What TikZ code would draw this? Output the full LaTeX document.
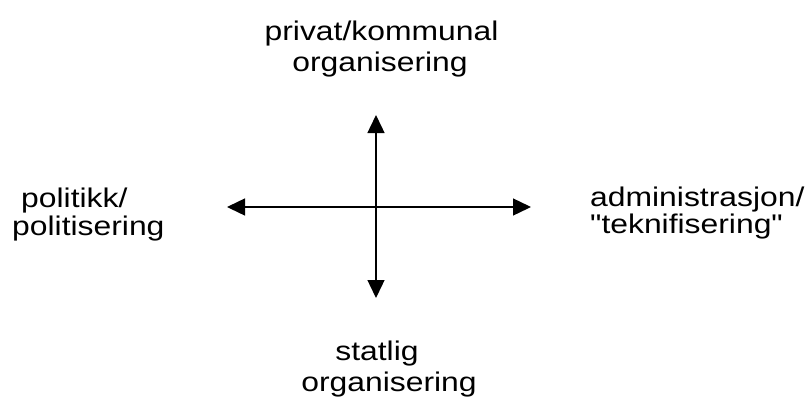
\documentclass[tikz,border=0pt]{standalone}
\usepackage{fontspec}
\setmainfont{Liberation Sans}
\usetikzlibrary{arrows.meta}
\tikzset{
  lbl/.style={inner sep=0pt, font=\fontsize{27}{30}\selectfont},
  axis/.style={line width=1.4pt, {Triangle[length=18pt,width=17pt]}-{Triangle[length=18pt,width=17pt]}}
}
\newcommand{\wt}[1]{\scalebox{1.18}[1]{#1}}
\begin{document}
\begin{tikzpicture}[x=1pt,y=-1pt]
\useasboundingbox (0,0) rectangle (809,397);
\coordinate (L) at (227,207);
\coordinate (R) at (531,207);
\coordinate (T) at (376,115);
\coordinate (B) at (376,298);
\draw[axis] (L) -- (R);
\draw[axis] (T) -- (B);
\node[lbl, anchor=base] (top1) at (381.5,40) {\wt{privat/kommunal}};
\node[lbl, anchor=base] (top2) at (380,71) {\wt{organisering}};
\node[lbl, anchor=base west] (left1) at (21,207) {\wt{politikk/}};
\node[lbl, anchor=base west] (left2) at (12,235) {\wt{politisering}};
\node[lbl, anchor=base west] (right1) at (590,206) {\wt{administrasjon/}};
\node[lbl, anchor=base west] (right2) at (590,233) {\wt{\textquotedbl teknifisering\textquotedbl}};
\node[lbl, anchor=base] (bot1) at (377,360) {\wt{statlig}};
\node[lbl, anchor=base] (bot2) at (389,391) {\wt{organisering}};
\end{tikzpicture}
\end{document}
